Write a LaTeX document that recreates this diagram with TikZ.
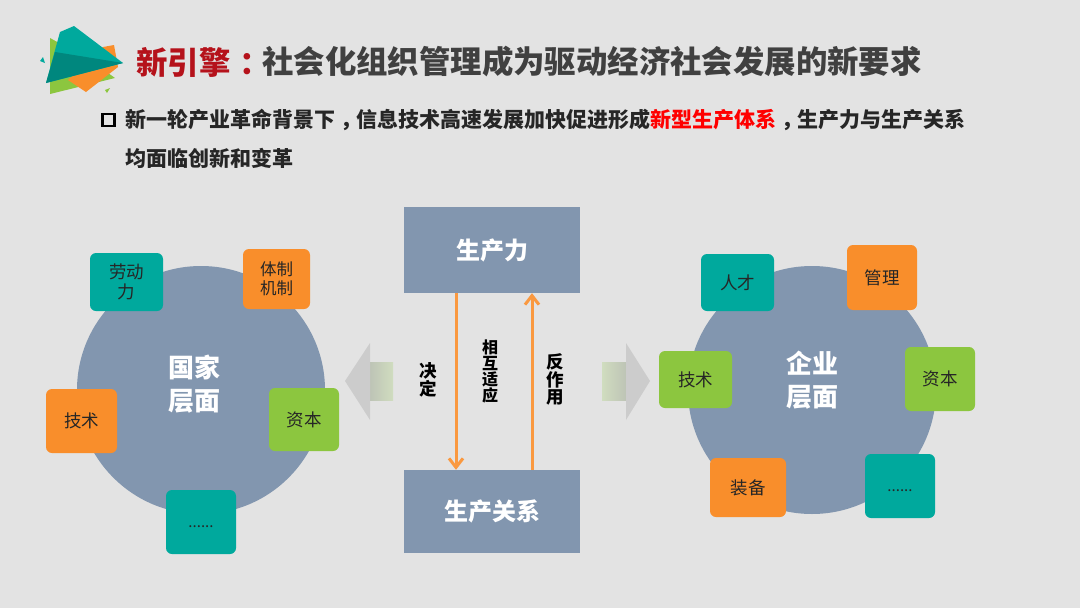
\documentclass[tikz,border=0pt]{standalone}
\usepackage{fontspec}
\setmainfont{Noto Sans CJK SC}
\usepackage{xcolor}
\usetikzlibrary{arrows.meta,positioning}
\definecolor{slide bg}{HTML}{E3E3E3}
\definecolor{slate}{HTML}{8296AF}
\definecolor{teal box}{HTML}{00A99D}
\definecolor{orange box}{HTML}{F98E2B}
\definecolor{green box}{HTML}{8CC63F}
\definecolor{title red}{HTML}{B5121B}
\definecolor{title gray}{HTML}{404040}
\newcommand{\wcomma}{\makebox[21pt][l]{\hspace{5pt}，}}
\newcommand{\wdots}{\smash{\raisebox{-5pt}{\fontsize{15}{15}\selectfont ......}}}
\tikzset{
    page title/.style={font=\bfseries\fontsize{31.4}{31.4}\selectfont, inner sep=0pt, anchor=west},
    page text/.style={font=\bfseries\fontsize{21}{21}\selectfont, text=black!85, inner sep=0pt, anchor=west},
    level disc/.style={circle, fill=slate, inner sep=0pt, minimum size=248pt},
    level label/.style={font=\bfseries\fontsize{26}{33}\selectfont, text=white, align=center, inner sep=0pt},
    prod box/.style={
        fill=slate,
        minimum width=176pt,
        font=\bfseries\fontsize{24}{24}\selectfont,
        text=white,
        inner sep=0pt
    },
    item box/.style={
        rounded corners=6pt,
        minimum width=70pt,
        minimum height=63pt,
        align=center,
        font=\fontsize{17.5}{20}\selectfont,
        text=black!85,
        inner sep=0pt
    },
    item teal/.style={item box, fill=teal box},
    item orange/.style={item box, fill=orange box},
    item green/.style={item box, fill=green box},
    side label/.style={font=\bfseries\fontsize{17.5}{17.5}\selectfont, align=center, inner sep=0pt},
    prod arrow/.style={-{Straight Barb[length=9pt,width=14pt]}, line width=3pt, draw=orange box!90!white}
}
\begin{document}
\begin{tikzpicture}[x=1pt,y=-1pt]
\useasboundingbox (0,0) rectangle (1080,608);
\fill[slide bg] (0,0) rectangle (1080,608);

% logo
\fill[green box] (50,38) -- (50,94) -- (115,78) -- (90,60) -- cycle;
\fill[orange box] (103,47) -- (114,45) -- (118,67) -- (86,92) -- (68,80) -- cycle;
\fill[teal box] (74,26) -- (123,63) -- (46,83) -- (60,32) -- cycle;
\fill[teal box!80!black] (55,52) -- (123,63) -- (46,83) -- cycle;
\fill[teal box] (40,61) -- (43,57) -- (45,63) -- cycle;
\fill[green box] (105,90) -- (110,88) -- (107,93) -- cycle;

% heading
\node[page title, text=title red] (trd) at (136,62) {新引擎\hspace{9pt}：};
\node[page title, text=title gray] (tgy) at (262,62) {社会化组织管理成为驱动经济社会发展的新要求};
\node[draw=black, line width=2.2pt, minimum size=12pt, inner sep=0pt] (bul) at (108.5,120) {};
\node[page text] (ln1) at (125,120) {新一轮产业革命背景下\wcomma 信息技术高速发展加快促进形成{\color{red}新型生产体系}\wcomma 生产力与生产关系};
\node[page text] (ln2) at (125,158) {均面临创新和变革};

% centre
\node[prod box, minimum height=86pt] (pf) at (492,250) {生产力};
\node[prod box, minimum height=83pt] (pr) at (492,511.5) {生产关系};
\draw[prod arrow] ([xshift=-36pt]pf.south) -- ([xshift=-36pt]pr.north);
\draw[prod arrow] ([xshift=40pt]pr.north) -- ([xshift=40pt]pf.south);
\node[side label] (jd) at (428,380) {决\\定};
\node[side label, font=\bfseries\fontsize{16}{16}\selectfont] (xh) at (490,371) {相\\互\\适\\应};
\node[side label] (fz) at (555,379.5) {反\\作\\用};

% block arrows
\shade[left color=black!14!slide bg!90!green box, right color=green box!22!slide bg] (370,362) rectangle (393,400);
\fill[black!20] (345,381) -- (370,343) -- (370,420) -- cycle;
\shade[right color=black!14!slide bg!90!green box, left color=green box!22!slide bg] (602,362) rectangle (626,400);
\fill[black!20] (650,381) -- (626,343) -- (626,420) -- cycle;

% national level
\node[level disc] (gj) at (201,390) {};
\node[level label] (gjt) at (194,384) {国家\\层面};
\node[item teal, minimum width=73pt, minimum height=58pt] (gj1) at (126.5,282) {劳动\\力};
\node[item orange, minimum width=67pt, minimum height=60pt, font=\fontsize{16.5}{19}\selectfont] (gj2) at (276.5,279) {体制\\机制};
\node[item green] (gj3) at (304,419.5) {资本};
\node[item orange, minimum width=71pt, minimum height=64pt] (gj4) at (81.5,421) {技术};
\node[item teal, minimum height=64pt] (gj5) at (201,522) {\wdots};

% enterprise level
\node[level disc] (qy) at (812,390) {};
\node[level label] (qyt) at (812,380) {企业\\层面};
\node[item teal, minimum width=73pt, minimum height=57pt] (qy1) at (737.5,282.5) {人才};
\node[item orange, minimum height=65pt] (qy2) at (882,277.5) {管理};
\node[item green, minimum width=73pt, minimum height=57pt] (qy3) at (695.5,379.5) {技术};
\node[item green, minimum height=64pt] (qy4) at (940,379) {资本};
\node[item orange, minimum width=76pt, minimum height=59pt] (qy5) at (748,487.5) {装备};
\node[item teal, minimum height=64pt] (qy6) at (900,486) {\wdots};
\end{tikzpicture}
\end{document}
